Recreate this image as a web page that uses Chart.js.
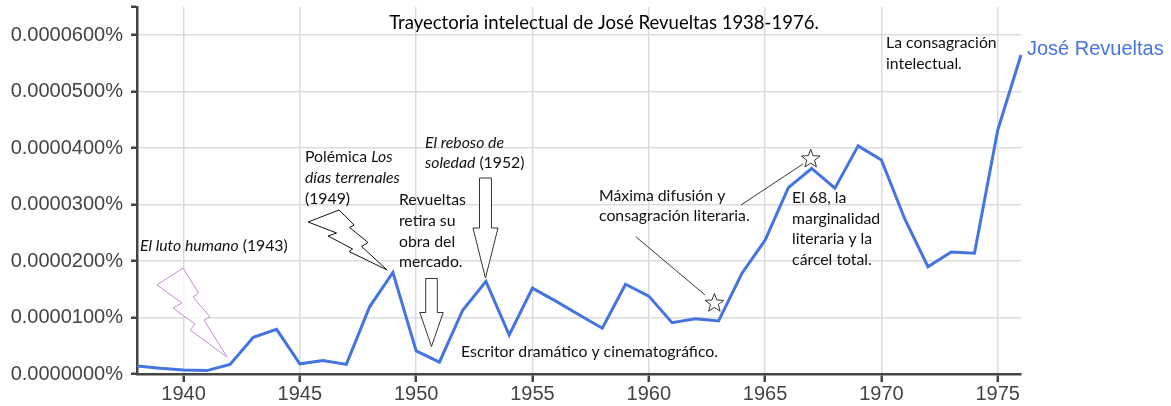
<!DOCTYPE html>
<html><head><meta charset="utf-8">
<script src="https://cdn.jsdelivr.net/npm/chart.js@4"></script>
<style>html,body{margin:0;padding:0;background:#fff}#wrap{width:1171px;height:406px;position:relative}</style>
</head><body><div id="wrap"><canvas id="c" width="1171" height="406"></canvas></div>
<script>
// ---- data ----
const years = [1938,1939,1940,1941,1942,1943,1944,1945,1946,1947,1948,1949,1950,1951,1952,1953,1954,1955,1956,1957,1958,1959,1960,1961,1962,1963,1964,1965,1966,1967,1968,1969,1970,1971,1972,1973,1974,1975,1976];
const revueltas = [0.0000014,0.0000010,0.0000007,0.0000006,0.0000017,0.0000065,0.0000079,0.0000018,0.0000024,0.0000017,0.0000119,0.0000180,0.0000041,0.0000021,0.0000113,0.0000164,0.0000069,0.0000152,0.0000129,0.0000105,0.0000081,0.0000159,0.0000138,0.0000091,0.0000098,0.0000094,0.0000178,0.0000237,0.0000330,0.0000364,0.0000329,0.0000404,0.0000379,0.0000275,0.0000190,0.0000216,0.0000214,0.0000432,0.0000565];
const seriesName = 'José Revueltas';
const xTickYears = [1940,1945,1950,1955,1960,1965,1970,1975];
const xTickLabels = ['1940','1945','1950','1955','1960','1965','1970','1975'];
const yTickValues = [0,0.00001,0.00002,0.00003,0.00004,0.00005,0.00006];
const yTickLabels = ['0.0000000%','0.0000100%','0.0000200%','0.0000300%','0.0000400%','0.0000500%','0.0000600%'];
const yAxisTop = 0.000065;
const xMin = 1938, xMax = 1976;
const chartTitle = 'Trayectoria intelectual de José Revueltas 1938-1976.';

// annotation texts (segments: [text, italic])
const notes = [
  {yr:1938.13, v:0.00002267, lines:[[['El luto humano',1],[' (1943)',0]]]},
  {yr:1945.22, v:0.0000384, lines:[[['Polémica ',0],['Los',1]],[['días terrenales',1]],[['(1949)',0]]]},
  {yr:1949.26, v:0.0000308, lines:[[['Revueltas',0]],[['retira su',0]],[['obra del',0]],[['mercado.',0]]]},
  {yr:1950.38, v:0.0000410, lines:[[['El reboso de',1]],[['soledad',1],[' (1952)',0]]]},
  {yr:1951.93, v:0.00000395, lines:[[['Escritor dramático y cinematográfico.',0]]]},
  {yr:1957.86, v:0.0000316, lines:[[['Máxima difusión y',0]],[['consagración literaria.',0]]]},
  {yr:1966.16, v:0.0000312, lines:[[['El 68, la',0]],[['marginalidad',0]],[['literaria y la',0]],[['cárcel total.',0]]]},
  {yr:1970.20, v:0.0000586, lines:[[['La consagración',0]],[['intelectual.',0]]]}
];

const LINE_COLOR = '#4374e0';
const FONT_TXT = 'Lato, "Open Sans", sans-serif';
const FONT_AX = '"Liberation Sans", Arial, sans-serif';

function fitSize(ctx, text, target, family, italic) {
  ctx.font = (italic ? 'italic ' : '') + '100px ' + family;
  return 100 * target / ctx.measureText(text).width;
}

const overlay = {
  id: 'overlay',
  afterDatasetsDraw(chart) {
    const ctx = chart.ctx, xs = chart.scales.x, ys = chart.scales.y;
    const P = (yr, v) => [xs.getPixelForValue(yr), ys.getPixelForValue(v)];
    ctx.save();

    const poly = (base, pts, stroke, fill) => {
      ctx.beginPath();
      pts.forEach((p, i) => { const x = base[0] + p[0], y = base[1] + p[1]; i ? ctx.lineTo(x, y) : ctx.moveTo(x, y); });
      ctx.closePath();
      ctx.fillStyle = fill; ctx.fill();
      ctx.lineWidth = 1; ctx.strokeStyle = stroke; ctx.stroke();
    };
    poly(P(1941.87, 0.00000301),
      [[-44,-89],[-28.5,-64],[-34,-60],[-17,-40],[-23,-37],[0,0],[-37,-27],[-32,-33],[-54,-49],[-45,-54],[-70,-72]],
      '#c28ccb', 'rgba(255,255,255,0.8)');
    poly(P(1948.75, 0.00001842),
      [[-48,-60],[-33,-45],[-37.5,-42.5],[-19,-27.5],[-25.5,-23.5],[0,0],[-38,-18.5],[-34.5,-21],[-59,-34],[-50.5,-37],[-79,-48]],
      '#111', 'rgba(255,255,255,0.85)');

    const arrow = (tip, hw, hh, sw, total) => {
      const [x, y] = tip;
      ctx.beginPath();
      ctx.moveTo(x, y);
      ctx.lineTo(x - hw, y - hh);
      ctx.lineTo(x - sw, y - hh);
      ctx.lineTo(x - sw, y - total);
      ctx.lineTo(x + sw, y - total);
      ctx.lineTo(x + sw, y - hh);
      ctx.lineTo(x + hw, y - hh);
      ctx.closePath();
      ctx.fillStyle = '#fff'; ctx.fill();
      ctx.lineWidth = 1; ctx.strokeStyle = '#333'; ctx.stroke();
    };
    arrow(P(1950.66, 0.00000487), 11.7, 34, 5.8, 68);
    arrow(P(1952.98, 0.0000170), 12.5, 50, 6, 100);

    const star = (c, ro, ri) => {
      ctx.beginPath();
      for (let i = 0; i < 10; i++) {
        const r = i % 2 ? ri : ro, a = -Math.PI / 2 + i * Math.PI / 5;
        const x = c[0] + r * Math.cos(a), y = c[1] + r * Math.sin(a);
        i ? ctx.lineTo(x, y) : ctx.moveTo(x, y);
      }
      ctx.closePath();
      ctx.fillStyle = '#fff'; ctx.fill();
      ctx.lineWidth = 1; ctx.strokeStyle = '#333'; ctx.stroke();
    };
    const seg = (c, a, b) => {
      ctx.beginPath(); ctx.moveTo(c[0] + a[0], c[1] + a[1]); ctx.lineTo(c[0] + b[0], c[1] + b[1]);
      ctx.lineWidth = 0.9; ctx.strokeStyle = '#222'; ctx.stroke();
    };
    const s1 = P(1962.82, 0.00001252), s2 = P(1966.96, 0.00003808);
    seg(s1, [-78.5, -66.5], [-9.5, -8.5]);
    seg(s2, [-69.7, 46], [-7.7, 5]);
    star(s1, 9.8, 4.1);
    star(s2, 9.8, 4.1);

    const size = fitSize(ctx, 'Escritor dramático y cinematográfico.', 257, FONT_TXT, false);
    ctx.fillStyle = '#111';
    ctx.textBaseline = 'middle';
    ctx.textAlign = 'left';
    notes.forEach(n => {
      const [x0, y0] = P(n.yr, n.v);
      n.lines.forEach((segs, li) => {
        let cx = x0;
        segs.forEach(([t, it]) => {
          ctx.font = (it ? 'italic ' : '') + size.toFixed(2) + 'px ' + FONT_TXT;
          ctx.fillText(t, cx, y0 + li * 20.7);
          cx += ctx.measureText(t).width;
        });
      });
    });

    const tsize = fitSize(ctx, chartTitle, 430, FONT_TXT, false);
    ctx.font = tsize.toFixed(2) + 'px ' + FONT_TXT;
    ctx.fillStyle = '#000';
    ctx.textAlign = 'center';
    ctx.fillText(chartTitle, 604, 23);

    const last = P(years[years.length - 1], revueltas[revueltas.length - 1]);
    ctx.font = '20px ' + FONT_AX;
    ctx.fillStyle = LINE_COLOR;
    ctx.textAlign = 'left';
    ctx.fillText(seriesName, last[0] + 6, last[1] - 6);
    ctx.restore();
  }
};

new Chart(document.getElementById('c'), {
  type: 'line',
  data: {
    datasets: [{
      label: seriesName,
      data: years.map((y, i) => ({x: y, y: revueltas[i]})),
      borderColor: LINE_COLOR,
      borderWidth: 3,
      pointRadius: 0,
      tension: 0,
      fill: false,
      clip: false
    }]
  },
  options: {
    responsive: false,
    animation: false,
    devicePixelRatio: 1,
    layout: {padding: {top: 7, right: 150, left: 0, bottom: 0}},
    plugins: {legend: {display: false}, tooltip: {enabled: false}, title: {display: false}},
    scales: {
      x: {
        type: 'linear', min: xMin, max: xMax,
        afterBuildTicks: s => { s.ticks = xTickYears.map(v => ({value: v})); },
        afterFit: s => { s.height = 32; s.paddingLeft = 0; s.paddingRight = 0; },
        ticks: {
          autoSkip: false, maxRotation: 0, padding: 0, color: '#444',
          font: {family: FONT_AX, size: 20},
          callback: (v) => { const i = xTickYears.indexOf(v); return i >= 0 ? xTickLabels[i] : ''; }
        },
        grid: {color: '#dcdcdc', lineWidth: 1.5, tickColor: '#444', tickLength: 8, tickWidth: 2.5},
        border: {color: '#444', width: 2.5}
      },
      y: {
        type: 'linear', min: 0, max: yAxisTop,
        afterBuildTicks: s => { s.ticks = yTickValues.concat([yAxisTop]).map(v => ({value: v})); },
        afterFit: s => { s.width = 137; s.paddingTop = 0; s.paddingBottom = 0; },
        ticks: {
          padding: 8, color: '#444',
          font: {family: FONT_AX, size: 20},
          callback: (v) => { const i = yTickValues.indexOf(v); return i >= 0 ? yTickLabels[i] : ''; }
        },
        grid: {
          color: c => (c.tick && c.tick.value === yAxisTop) ? 'rgba(0,0,0,0)' : '#dcdcdc',
          lineWidth: 1.5, tickColor: '#444', tickLength: 6, tickWidth: 2.5
        },
        border: {color: '#444', width: 2.5}
      }
    }
  },
  plugins: [overlay]
});
</script>
</body></html>
